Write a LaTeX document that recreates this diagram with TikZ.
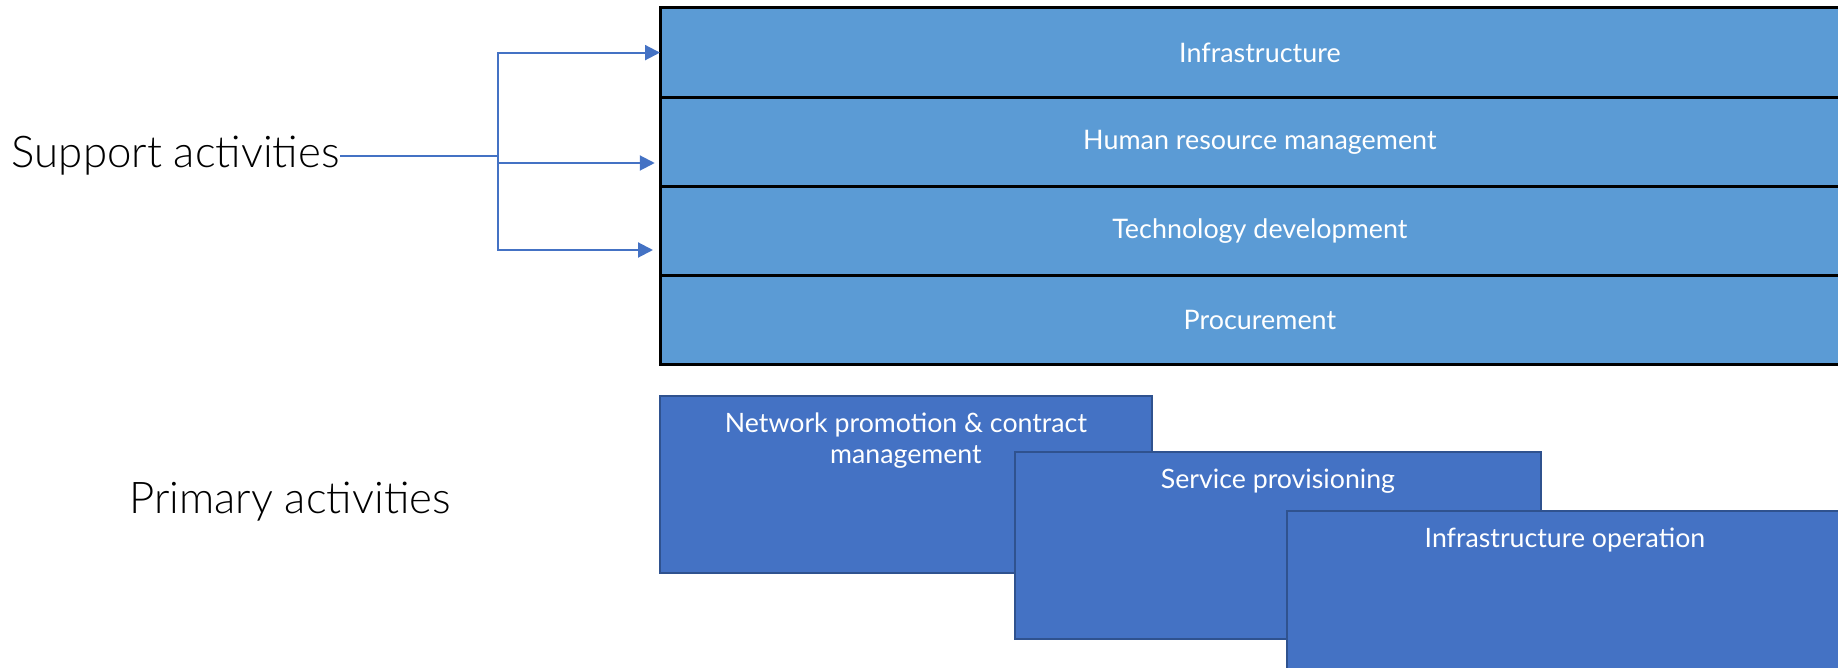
\documentclass[tikz,border=0pt]{standalone}
\usepackage{fontspec}
\setmainfont{Lato}
\newfontfamily\thinfont{Lato Light}
\usetikzlibrary{arrows.meta}
\usetikzlibrary{positioning}
\definecolor{supportblue}{HTML}{5B9BD5}
\definecolor{primaryblue}{HTML}{4472C4}
\definecolor{primaryedge}{HTML}{2F528F}

\begin{document}
\begin{tikzpicture}[x=0.02cm, y=-0.02cm]

		\tikzstyle{edge} = [draw=primaryblue, line width=1.2pt, -{Triangle[length=8.5pt, width=8.5pt]}]
		\tikzstyle{support} = [rectangle, draw=black, line width=1.7pt, fill=supportblue, minimum width=24cm, minimum height=1.785cm, outer sep=0pt, text=white, font=\fontsize{15.3}{18}\selectfont]
		\tikzstyle{primary} = [rectangle, draw=primaryedge, line width=1pt, fill=primaryblue, outer sep=0pt, anchor=north west]
		\tikzstyle{primtext} = [anchor=north, text=white, align=center, inner sep=0pt, font=\fontsize{15.2}{18}\selectfont]
		\tikzstyle{group} = [inner sep=0pt, font=\thinfont\fontsize{24.9}{30}\selectfont]

		\useasboundingbox (0,0) rectangle (1838,668);
		\clip (0,0) rectangle (1838,668);

		\node[support, anchor=north west](infra) at (660,8){Infrastructure};
		\node[support](hrm) [below=0pt of infra]{Human resource management};
		\node[support](tech) [below=0pt of hrm]{Technology development};
		\node[support](proc) [below=0pt of tech]{Procurement};

		\node[primary, minimum width=9.84cm, minimum height=3.54cm](npc) at (660,396){};
		\node[primtext] [below=9.3pt of npc.north]{Network promotion \& contract\\management};
		\node[primary, minimum width=10.52cm, minimum height=3.74cm](serv) at (1015,452){};
		\node[primtext] [below=9.3pt of serv.north]{Service provisioning};
		\node[primary, minimum width=11.12cm, minimum height=3.8cm](iop) at (1287,511){};
		\node[primtext] [below=9.3pt of iop.north]{Infrastructure operation};

		\node[group, anchor=east](sup) at (340,156){Support activities};
		\node[group](pri) at (290,502){Primary activities};

		\coordinate (fork) at (498,156);
		\draw[edge] (sup.east) -- (fork) |- (infra.west);
		\draw[edge, shorten >=3pt] (fork) |- (hrm.west |- 0,163);
		\draw[edge, shorten >=4pt] (fork) |- (tech.west |- 0,250);

\end{tikzpicture}
\end{document}
